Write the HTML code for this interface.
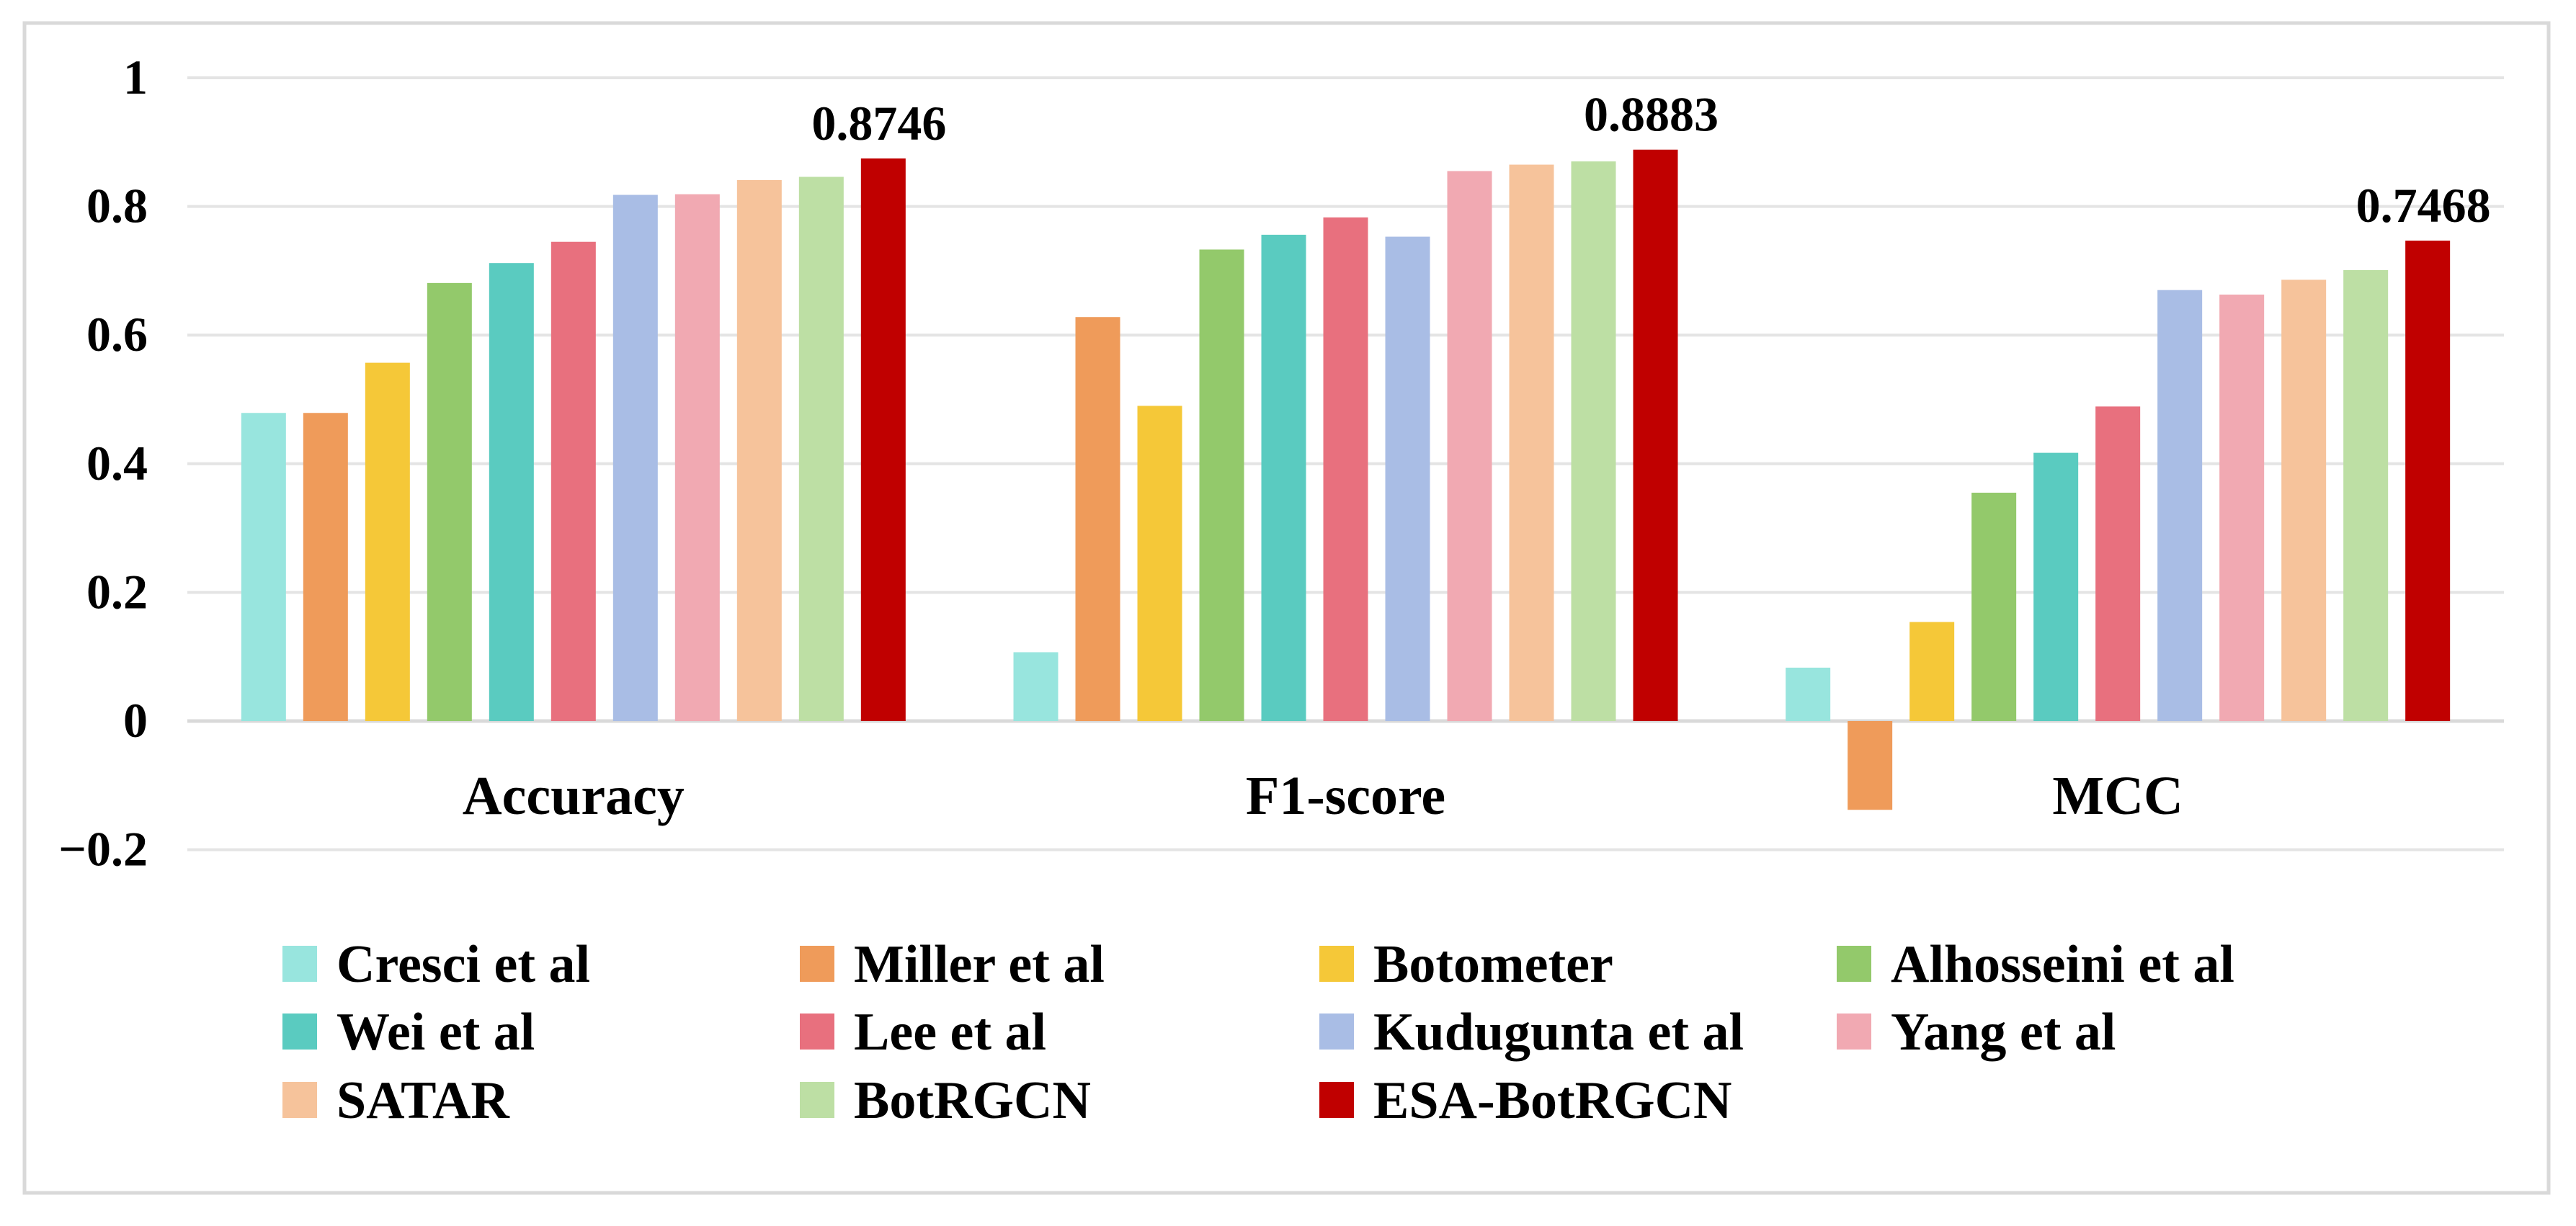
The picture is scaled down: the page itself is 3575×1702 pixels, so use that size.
<!DOCTYPE html>
<html><head><meta charset="utf-8"><style>
html,body{margin:0;padding:0;background:#fff;}
svg{display:block;}
text{font-family:"Liberation Serif","DejaVu Serif",serif;font-weight:bold;}
</style></head><body>
<svg id="chart" width="3575" height="1702" viewBox="0 0 3575 1702" xmlns="http://www.w3.org/2000/svg">
<rect x="34" y="32" width="3503" height="1624" fill="#fff" stroke="#d9d9d9" stroke-width="5"/>
<g id="grid"></g><g id="bars"></g><g id="labels"></g><g id="legend"></g>
</svg>
<script>
const categories = ["Accuracy","F1-score","MCC"];
const methods = ["Cresci et al","Miller et al","Botometer","Alhosseini et al","Wei et al","Lee et al","Kudugunta et al","Yang et al","SATAR","BotRGCN","ESA-BotRGCN"];
const colors = ["#98e5de","#ef9b5a","#f5c838","#93c96b","#5acbc0","#e8707e","#a9bde5","#f1a9b2","#f6c39b","#bddfa4","#c00000"];
const accuracyValues = [0.479,0.479,0.557,0.681,0.712,0.745,0.818,0.819,0.841,0.846,0.8746];
const f1Values = [0.107,0.628,0.49,0.733,0.756,0.783,0.753,0.855,0.865,0.87,0.8883];
const mccValues = [0.083,-0.138,0.154,0.355,0.417,0.489,0.67,0.663,0.686,0.701,0.7468];
const tickValues = [1,0.8,0.6,0.4,0.2,0,-0.2];
const tickLabels = ["1","0.8","0.6","0.4","0.2","0","\u22120.2"];
const highlightLabels = ["0.8746","0.8883","0.7468"];

const NS="http://www.w3.org/2000/svg";
const FONT='"Liberation Serif","DejaVu Serif",serif';
const plotL=260, plotR=3475, zeroY=1001, unit=893;
const groupW=(plotR-plotL)/categories.length, pitch=86, barW=62;
function y(v){return zeroY - v*unit;}
function gx(g){return plotL + groupW*(g+0.5);}
function bx(g,i){return gx(g) + (i-(methods.length-1)/2)*pitch;}
function mk(tag,attrs,parent){const e=document.createElementNS(NS,tag);for(const k in attrs)e.setAttribute(k,attrs[k]);if(tag==='text'){e.setAttribute('font-family',FONT);e.setAttribute('font-weight','bold');}parent.appendChild(e);return e;}

const grid=document.getElementById('grid');
tickValues.forEach((t,i)=>{
  const l=mk('line',{x1:plotL,x2:plotR,y1:y(t),y2:y(t),stroke:t===0?'#d9d9d9':'#e4e4e4','stroke-width':t===0?5:4},grid);
  
  
  const tx=mk('text',{x:205,y:y(t)+22,'text-anchor':'end','font-size':68,fill:'#000'},grid);
  tx.textContent=tickLabels[i];
  
  
});

const series=[accuracyValues,f1Values,mccValues];
const bars=document.getElementById('bars');
const labels=document.getElementById('labels');
series.forEach((vals,g)=>{
  vals.forEach((v,i)=>{
    const top=Math.min(y(v),zeroY), h=Math.abs(y(v)-zeroY);
    const r=mk('rect',{x:bx(g,i)-barW/2,y:top,width:barW,height:h,fill:colors[i]},bars);
    
    
  });
  const last=vals.length-1;
  const dl=mk('text',{x:bx(g,last)-6,y:y(vals[last])-26,'text-anchor':'middle','font-size':68,fill:'#000'},labels);
  dl.textContent=highlightLabels[g];
  
  
  const cl=mk('text',{x:gx(g),y:1130,'text-anchor':'middle','font-size':76,fill:'#000'},labels);
  cl.textContent=categories[g];
  
  
});

const legend=document.getElementById('legend');
const colX=[392,1110,1831,2549], rowY=[1338,1432,1527];
methods.forEach((m,i)=>{
  const c=i%4, r=Math.floor(i/4);
  const g=mk('g',{},legend);
  
  
  mk('rect',{x:colX[c],y:rowY[r]-25,width:48,height:50,fill:colors[i]},g);
  const t=mk('text',{x:colX[c]+75,y:rowY[r]+25,'font-size':74,fill:'#000'},g);
  t.textContent=m;
});
</script>
</body></html>
